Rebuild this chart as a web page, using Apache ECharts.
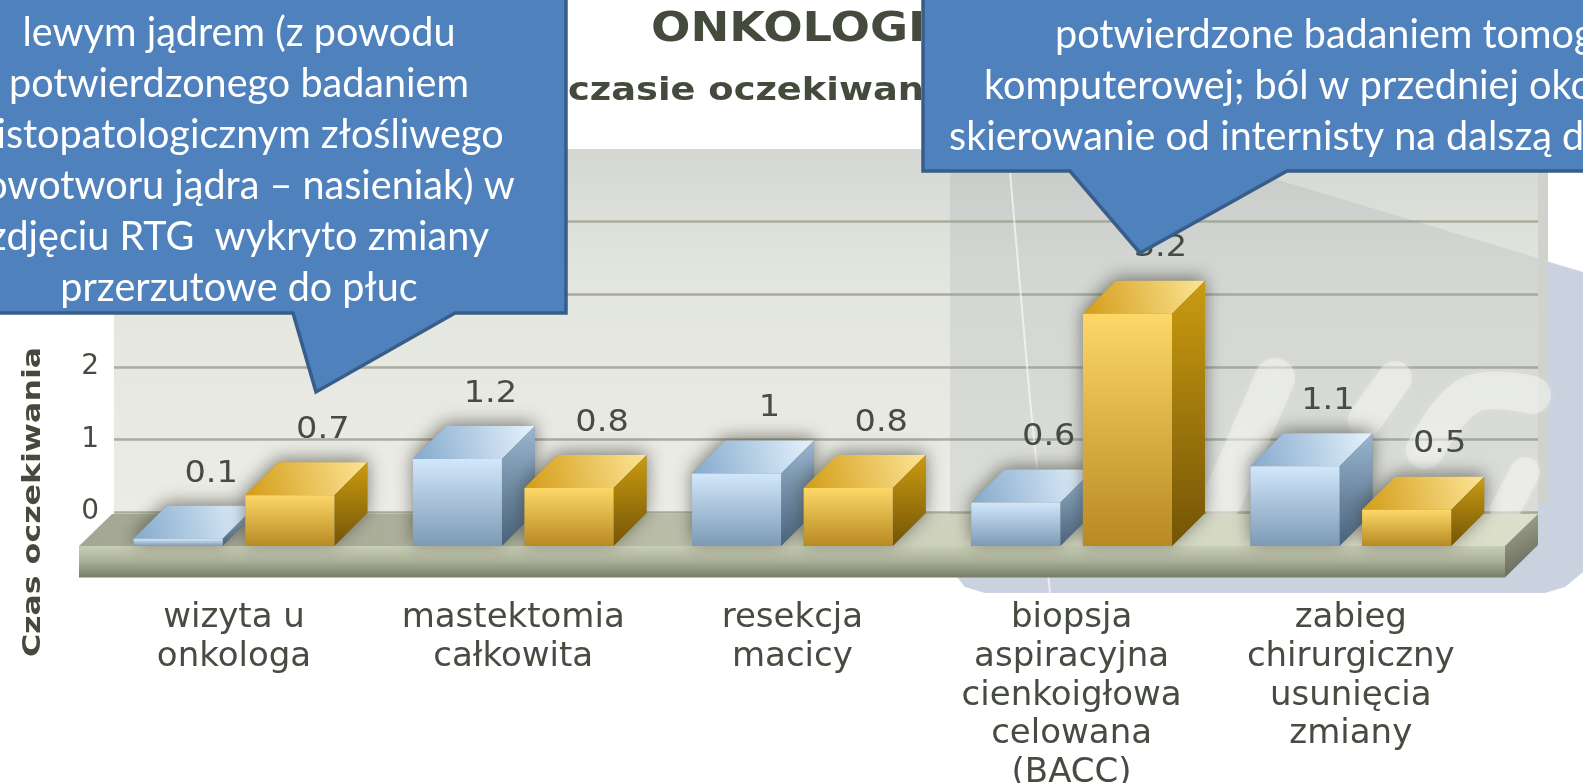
<!DOCTYPE html>
<html>
<head>
<meta charset="utf-8">
<title>Czas oczekiwania</title>
<style>
html,body{margin:0;padding:0;background:#fff;}
#chart{width:1583px;height:783px;}
</style>
<script src="https://cdn.jsdelivr.net/npm/echarts@6/dist/echarts.min.js"></script>
</head>
<body>
<div id="chart"></div>
<script>
var categories = ['wizyta u\nonkologa', 'mastektomia\ncałkowita', 'resekcja\nmacicy', 'biopsja\naspiracyjna\ncienkoigłowa\ncelowana\n(BACC)', 'zabieg\nchirurgiczny\nusunięcia\nzmiany'];
var blueValues = [0.1, 1.2, 1, 0.6, 1.1];
var goldValues = [0.7, 0.8, 0.8, 3.2, 0.5];
var blueLabels = ['0.1', '1.2', '1', '0.6', '1.1'];
var goldLabels = ['0.7', '0.8', '0.8', '3.2', '0.5'];
var yTicks = [0, 1, 2, 3, 4, 5];
var leftNote = ['lewym jądrem (z powodu', 'potwierdzonego badaniem', 'histopatologicznym złośliwego', 'nowotworu jądra – nasieniak) w', 'zdjęciu RTG  wykryto zmiany', 'przerzutowe do płuc'];
var rightNote = ['potwierdzone badaniem tomografii', 'komputerowej; ból w przedniej okolicy', 'skierowanie od internisty na dalszą diagnostykę'];

var DEPTH = 33;
var TEXT_DARK = '#474c42';

function grad(x, y, x2, y2, c1, c2, c3) {
	var stops = [{offset: 0, color: c1}];
	if (c3) {
		stops.push({offset: 0.5, color: c2});
		stops.push({offset: 1, color: c3});
	} else {
		stops.push({offset: 1, color: c2});
	}
	return new echarts.graphic.LinearGradient(x, y, x2, y2, stops);
}

// colours of the three visible faces of a box
var blueFaces = {
	front: grad(0, 0, 0, 1, '#d2e7fb', '#7c9ab5'),
	top: grad(0, 1, 1, 0, '#84a9cc', '#e6f3fd'),
	side: grad(0, 0, 0, 1, '#9ab6d0', '#48627a')
};
var goldFaces = {
	front: grad(0, 0, 0, 1, '#fdd768', '#b78a22'),
	top: grad(0, 1, 1, 0, '#d39c18', '#fde596'),
	side: grad(0, 0, 0, 1, '#cb9c10', '#735407')
};

function boxRenderer(faces, labels, shift) {
	return function (params, api) {
		var cat = api.value(0);
		var base = api.coord([cat, 0]);
		var head = api.coord([cat, api.value(1)]);
		var band = api.size([1, 0])[0];
		var w = band * 0.319;
		var l = base[0] + band * shift - w / 2;
		var r = l + w;
		var t = head[1];
		var b = base[1];
		var children = [
			{type: 'polygon', shape: {points: [[l, b], [l, t], [l + DEPTH, t - DEPTH], [r + DEPTH, t - DEPTH], [r + DEPTH, b - DEPTH], [r, b]]},
				style: {fill: '#8a8a80', shadowBlur: 18, shadowColor: 'rgba(50,50,40,0.6)', shadowOffsetY: -3}},
			{type: 'polygon', shape: {points: [[l, t], [l + DEPTH, t - DEPTH], [r + DEPTH, t - DEPTH], [r, t]]}, style: {fill: faces.top}},
			{type: 'polygon', shape: {points: [[r, t], [r + DEPTH, t - DEPTH], [r + DEPTH, b - DEPTH], [r, b]]}, style: {fill: faces.side}},
			{type: 'rect', shape: {x: l, y: t, width: w, height: b - t}, style: {fill: faces.front}},
			{type: 'text', x: (l + r) / 2 + DEPTH, y: t - DEPTH - 32, scaleX: 1.12,
				style: {text: labels[params.dataIndex], font: '30px "DejaVu Sans"', fill: TEXT_DARK,
					align: 'center', verticalAlign: 'middle', textAlign: 'center', textVerticalAlign: 'middle'}}
		];
		return {type: 'group', children: children};
	};
}

function pairs(values) {
	var out = [];
	for (var i = 0; i < values.length; i++) {
		out.push([i, values[i]]);
	}
	return out;
}

function noteText(text, x, y, align) {
	return {type: 'text', x: x, y: y, z: 11, scaleX: 0.965,
		style: {text: text, font: '41px Lato', fill: '#fff', align: align, verticalAlign: 'middle', textAlign: align, textVerticalAlign: 'middle'}};
}

function plainText(text, x, y, font, scaleX, rotation) {
	return {type: 'text', x: x, y: y, z: 1, scaleX: scaleX, rotation: rotation || 0,
		style: {text: text, font: font, fill: '#444a3c', align: rotation ? 'center' : 'left', verticalAlign: 'middle',
			textAlign: rotation ? 'center' : 'left', textVerticalAlign: 'middle'}};
}

function decorations() {
	var els = [];
	// pale rounded backdrop on the right, behind the wall
	els.push({type: 'polygon', z: -1, shape: {points: [[950, 140], [1140, 140], [1583, 272], [1583, 572], [1565, 587], [1545, 593], [985, 593], [965, 587], [953, 572], [950, 550]]},
		style: {fill: '#cbd2df'}});
	// same backdrop seen through the wall
	els.push({type: 'polygon', z: 1, shape: {points: [[950, 149], [1175, 149], [1538, 258], [1538, 514], [950, 514]]},
		style: {fill: 'rgba(150,160,165,0.2)'}});
	els.push({type: 'rect', z: 1, shape: {x: 1538, y: 149, width: 10, height: 355}, style: {fill: '#cfd2cd'}});
	// watermark letters
	var strokes = [
		[[[1222, 500], [1275, 378]], 40],
		[[[1365, 420], [1395, 378]], 34],
		[[[1425, 450], [1470, 395], [1532, 395]], 38],
		[[[1505, 510], [1525, 472]], 30]
	];
	for (var i = 0; i < strokes.length; i++) {
		els.push({type: 'polyline', z: 1, shape: {points: strokes[i][0], smooth: 0.4},
			style: {fill: 'none', stroke: 'rgba(255,255,255,0.36)', lineWidth: strokes[i][1], lineCap: 'round',
				shadowBlur: 8, shadowColor: 'rgba(255,255,255,0.5)'}});
	}
	els.push({type: 'polyline', z: 1, shape: {points: [[1010, 172], [1030, 400], [1050, 593]]},
		style: {fill: 'none', stroke: 'rgba(255,255,255,0.6)', lineWidth: 2}});
	// floor slab
	els.push({type: 'polygon', z: 1, shape: {points: [[79, 546], [112, 514], [1538, 514], [1505, 546]]},
		style: {fill: new echarts.graphic.LinearGradient(0, 0, 1, 0, [
			{offset: 0, color: '#a3a793'}, {offset: 0.3, color: '#aeb29d'}, {offset: 0.6, color: '#cfd2bd'}, {offset: 1, color: '#dcdfca'}])}});
	els.push({type: 'rect', z: 1, shape: {x: 79, y: 546, width: 1426, height: 31.5},
		style: {fill: grad(0, 0, 0, 1, '#c9ceb6', '#a9ae97', '#777c66')}});
	els.push({type: 'polygon', z: 1, shape: {points: [[1505, 546], [1538, 514], [1538, 545], [1505, 577.5]]},
		style: {fill: grad(0, 0, 1, 1, '#a8ad97', '#5a5e4e')}});
	// heading pieces still visible between the notes
	els.push(plainText('ONKOLOGI', 651, 31, 'bold 40px "DejaVu Sans"', 1.16));
	els.push(plainText('czasie oczekiwan', 568, 92, 'bold 32px "DejaVu Sans"', 1.15));
	els.push(plainText('Czas oczekiwania', 33, 502, 'bold 25px "DejaVu Sans"', 1.265, Math.PI / 2));
	// speech bubbles
	els.push({type: 'polygon', z: 10, shape: {points: [[-6, -6], [566, -6], [566, 313], [455, 313], [316, 392], [293, 313], [-6, 313]]},
		style: {fill: '#4f81bd', stroke: '#385d8a', lineWidth: 3.5}});
	els.push({type: 'polygon', z: 10, shape: {points: [[923, -6], [1590, -6], [1590, 171], [1287, 171], [1140, 253], [1070, 171], [923, 171]]},
		style: {fill: '#4f81bd', stroke: '#385d8a', lineWidth: 3.5}});
	for (var m = 0; m < leftNote.length; m++) {
		els.push(noteText(leftNote[m], 239, 33 + m * 51, 'center'));
	}
	var rightX = [1055, 984, 949];
	for (var n = 0; n < rightNote.length; n++) {
		els.push(noteText(rightNote[n], rightX[n], 35 + n * 51, 'left'));
	}
	return els;
}

function init() {
	var chart = echarts.init(document.getElementById('chart'));
	chart.setOption({
		animation: false,
		backgroundColor: '#fff',
		graphic: {elements: decorations()},
		grid: [
			{left: 114, width: 1424, top: 149, height: 363, show: true, borderWidth: 0, outerBoundsMode: 'none',
				backgroundColor: new echarts.graphic.LinearGradient(0, 0, 0, 1, [
					{offset: 0, color: '#d5d7d2'}, {offset: 0.35, color: '#e3e5df'}, {offset: 1, color: '#ecece6'}])},
			{left: 94.4, width: 1396, top: 183, height: 363, outerBoundsMode: 'none'}
		],
		xAxis: [
			{gridIndex: 0, type: 'category', data: categories, show: false},
			{gridIndex: 1, type: 'category', data: categories,
				axisLine: {show: false}, axisTick: {show: false},
				axisLabel: {interval: 0, margin: 53, color: TEXT_DARK, fontFamily: 'DejaVu Sans', fontSize: 34, lineHeight: 38.7, hideOverlap: false}}
		],
		yAxis: [
			{gridIndex: 0, type: 'value', min: yTicks[0], max: yTicks[yTicks.length - 1], interval: 1,
				axisLine: {show: false}, axisTick: {show: false},
				axisLabel: {margin: 15, color: TEXT_DARK, fontFamily: 'DejaVu Sans', fontSize: 28},
				splitLine: {showMaxLine: false, lineStyle: {color: '#a9ac9c', width: 2.5}}},
			{gridIndex: 1, type: 'value', min: yTicks[0], max: yTicks[yTicks.length - 1], show: false}
		],
		series: [
			{type: 'custom', name: 'A', xAxisIndex: 1, yAxisIndex: 1, clip: false, data: pairs(blueValues),
				encode: {x: 0, y: 1}, renderItem: boxRenderer(blueFaces, blueLabels, -0.2)},
			{type: 'custom', name: 'B', xAxisIndex: 1, yAxisIndex: 1, clip: false, data: pairs(goldValues),
				encode: {x: 0, y: 1}, renderItem: boxRenderer(goldFaces, goldLabels, 0.2)}
		]
	});
}

init();
</script>
</body>
</html>
